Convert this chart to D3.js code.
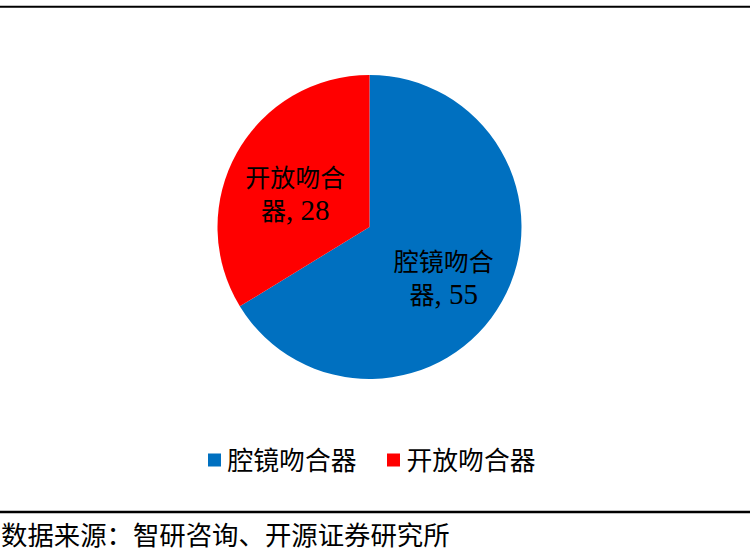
<!DOCTYPE html>
<html>
<head>
<meta charset="utf-8">
<script src="https://cdn.jsdelivr.net/npm/d3@7"></script>
<style>
  body { margin: 0; background: #fff; }
  svg { display: block; }
</style>
</head>
<body>
<div class="chart"></div>
<script>
//Data
var categories = ["腔镜吻合器", "开放吻合器"];
var values = [55, 28];
var colors = ["#0070C0", "#FF0000"];
var sourceText = "数据来源：智研咨询、开源证券研究所";

//Config
var width = 752,
    height = 557,
    center = { x : 369.5, y : 227 },
    radius = 152,
    labelRadius = 85,
    cjkFont = "'Noto Sans CJK SC', sans-serif",
    latinFont = "'Liberation Serif', 'Times New Roman', serif";

var data = categories.map(function (c, i) {
  return { name : c, value : values[i], color : colors[i] };
});

var svg = d3.select(".chart")
    .append("svg")
    .attr("width", width)
    .attr("height", height);

//Top and bottom rules
svg.append("line")
    .attr("x1", 0).attr("x2", 750)
    .attr("y1", 6.7).attr("y2", 6.7)
    .style("stroke", "#000")
    .style("stroke-width", 2);

svg.append("line")
    .attr("x1", 0).attr("x2", 750)
    .attr("y1", 512).attr("y2", 512)
    .style("stroke", "#000")
    .style("stroke-width", 2.3);

//Pie
var pie = d3.pie()
    .sort(null)
    .value(function (d) { return d.value; });

var arc = d3.arc()
    .innerRadius(0)
    .outerRadius(radius);

var labelArc = d3.arc()
    .innerRadius(labelRadius)
    .outerRadius(labelRadius);

var gpie = svg.append("g")
    .attr("transform", "translate(" + center.x + "," + center.y + ")");

var arcs = pie(data);

gpie.selectAll(".slice")
    .data(arcs)
    .enter()
    .append("path")
    .classed("slice", true)
    .attr("d", arc)
    .style("fill", function (d) { return d.data.color; });

var labels = gpie.selectAll(".label")
    .data(arcs)
    .enter()
    .append("text")
    .classed("label", true)
    .attr("transform", function (d) {
      var c = labelArc.centroid(d);
      return "translate(" + c[0] + "," + (c[1] + 9) + ")";
    })
    .style("font-family", cjkFont)
    .style("font-size", "25px")
    .style("text-anchor", "middle")
    .style("fill", "#000");

labels.append("tspan")
    .attr("x", 0)
    .attr("y", -16.5 + 9.5)
    .text(function (d) { return d.data.name.slice(0, 4); });

labels.append("tspan")
    .attr("x", 0)
    .attr("y", 16.5 + 9.5)
    .text(function (d) { return d.data.name.slice(4); });

labels.append("tspan")
    .style("font-family", latinFont)
    .style("font-size", "29px")
    .text(function (d) { return ", " + d.data.value; });

//Legend
var legendX = d3.scalePoint()
    .domain(categories)
    .range([208, 387]);

var legend = svg.selectAll(".legend")
    .data(data)
    .enter()
    .append("g")
    .classed("legend", true)
    .attr("transform", function (d) {
      return "translate(" + legendX(d.name) + ",460)";
    });

legend.append("rect")
    .attr("x", 0)
    .attr("y", -6.5)
    .attr("width", 13)
    .attr("height", 13)
    .style("fill", function (d) { return d.color; });

legend.append("text")
    .attr("x", 19.5)
    .attr("y", 10)
    .style("font-family", cjkFont)
    .style("font-size", "25.8px")
    .style("fill", "#000")
    .text(function (d) { return d.name; });

//Source
svg.append("text")
    .attr("x", 1)
    .attr("y", 545)
    .style("font-family", cjkFont)
    .style("font-size", "26.4px")
    .style("fill", "#000")
    .text(sourceText);
</script>
</body>
</html>
